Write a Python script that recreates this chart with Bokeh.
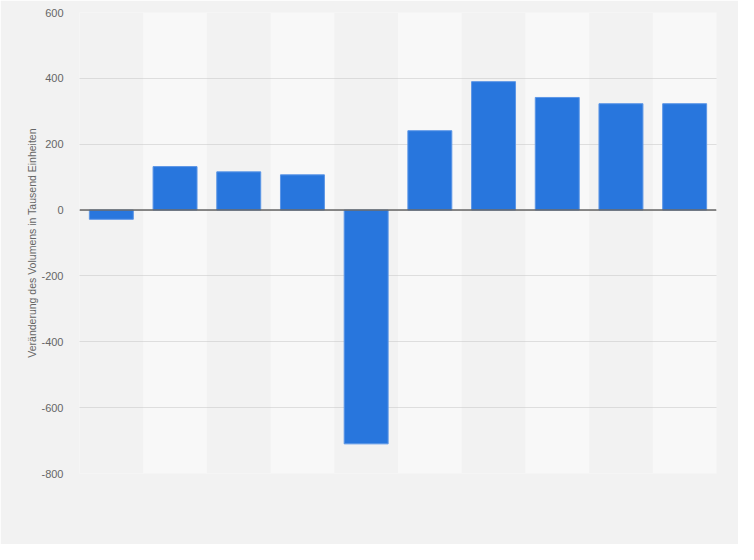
from bokeh.plotting import figure
from bokeh.models import Span, Range1d, PrintfTickFormatter
from bokeh.embed import file_html
from bokeh.resources import INLINE

categories = ["1", "2", "3", "4", "5", "6", "7", "8", "9", "10"]
values = [-28, 132, 116, 107, -710, 241, 390, 342, 323, 323]
y_min, y_max = -800, 600
y_ticks = [-800, -600, -400, -200, 0, 200, 400, 600]
y_label = "Veränderung des Volumens in Tausend Einheiten"

BG = "#f2f2f2"

p = figure(x_range=categories, width=738, height=544,
           output_backend="svg", toolbar_location=None,
           min_border_left=79, min_border_right=22,
           min_border_top=12, min_border_bottom=71)
p.y_range = Range1d(y_min, y_max)
p.background_fill_color = BG
p.border_fill_color = BG
p.outline_line_color = None

# alternating column bands (drawn beneath the grid)
band_x = [c for i, c in enumerate(categories) if i % 2 == 1]
p.vbar(x=band_x, width=1.0, bottom=y_min, top=y_max,
       fill_color="#f8f8f8", line_color=None, level="image")

p.vbar(x=categories, top=values, bottom=0, width=0.69,
       fill_color="#2876dd", line_color="#5c96e6", line_width=1)

p.add_layout(Span(location=0, dimension="width",
                  line_color="#666666", line_width=1.5))

p.xaxis.visible = False
p.xgrid.grid_line_color = None
p.ygrid.grid_line_color = "#c4c4c4"
p.ygrid.grid_line_dash = "1 1"
p.ygrid.grid_line_width = 1
p.ygrid.ticker = y_ticks

ya = p.yaxis[0]
ya.ticker = y_ticks
ya.formatter = PrintfTickFormatter(format="%d")
ya.axis_line_color = None
ya.major_tick_line_color = None
ya.minor_tick_line_color = None
ya.major_tick_out = 0
ya.major_tick_in = 0
ya.minor_tick_out = 0
ya.minor_tick_in = 0
ya.major_label_text_color = "#666666"
ya.major_label_text_font = "Liberation Sans"
ya.major_label_text_font_size = "11px"
ya.major_label_standoff = 16
ya.axis_label = y_label
ya.axis_label_text_font = "Liberation Sans"
ya.axis_label_text_font_size = "10.5px"
ya.axis_label_text_font_style = "normal"
ya.axis_label_text_color = "#666666"
ya.axis_label_standoff = 0

open("out.html", "w").write(file_html(p, INLINE))
